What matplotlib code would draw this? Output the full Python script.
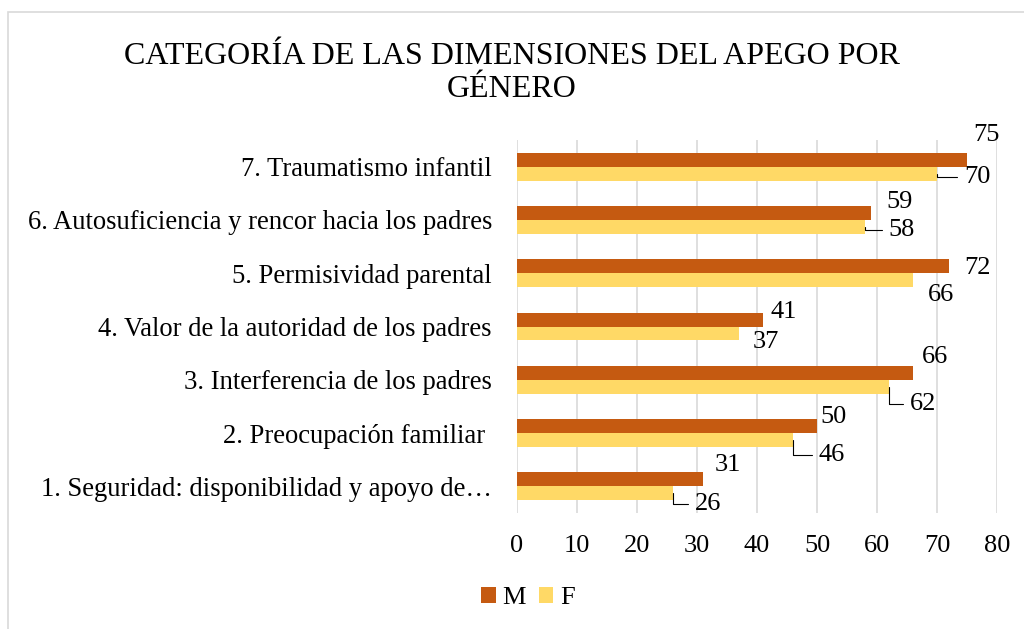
import matplotlib
matplotlib.use("Agg")
import matplotlib.pyplot as plt
from matplotlib.patches import Rectangle
import numpy as np

plt.rcParams['font.family'] = ['Liberation Serif', 'DejaVu Serif']

categorias = ["1. Seguridad: disponibilidad y apoyo de…",
              "2. Preocupación familiar ",
              "3. Interferencia de los padres",
              "4. Valor de la autoridad de los padres",
              "5. Permisividad parental",
              "6. Autosuficiencia y rencor hacia los padres",
              "7. Traumatismo infantil"]
valores_m = [31, 50, 66, 41, 72, 59, 75]
valores_f = [26, 46, 62, 37, 66, 58, 70]

# label offsets (pixels) from bar end, and whether a leader line is drawn
off_m = [(25, 14), (17, 9), (22, 16), (21, 8), (29, -2), (29, 11), (19, 25)]
off_f = [(35, -11), (39, -15), (34, -17), (27, -9), (28, -15), (37, -3), (40, -3)]
guia_f = [True, True, True, False, False, True, True]

color_m = "#C55A11"
color_f = "#FFD966"

fig = plt.figure(figsize=(10.24, 6.29), dpi=100)
ax = fig.add_axes([517/1024, 1 - 513/629, 480/1024, 373/629])

# light chart border
fig.patches.append(Rectangle((8/1024, -0.1), 1.2, 1 - 12/629 + 0.1,
                             transform=fig.transFigure, fill=False,
                             edgecolor="#D9D9D9", lw=1.2))

y = np.arange(len(categorias))
h = 0.2625
ax.barh(y + h/2, valores_m, height=h, color=color_m, label="M", zorder=3)
ax.barh(y - h/2, valores_f, height=h, color=color_f, label="F", zorder=3)

for i in range(len(categorias)):
    ax.annotate(str(valores_m[i]), xy=(valores_m[i], y[i] + h/2),
                xytext=off_m[i], textcoords="offset pixels",
                ha="center", va="center", fontsize=19)
    if guia_f[i]:
        ax.annotate(str(valores_f[i]), xy=(valores_f[i], y[i] - h/2),
                    xytext=off_f[i], textcoords="offset pixels",
                    ha="center", va="center", fontsize=19,
                    arrowprops=dict(arrowstyle="-", color="black", lw=0.8,
                                    relpos=(0, 0.5), shrinkA=3, shrinkB=0,
                                    connectionstyle="angle,angleA=0,angleB=90,rad=0"))
    else:
        ax.annotate(str(valores_f[i]), xy=(valores_f[i], y[i] - h/2),
                    xytext=off_f[i], textcoords="offset pixels",
                    ha="center", va="center", fontsize=19)

ax.set_xlim(0, 80)
ax.set_ylim(-0.5, 6.5)
ax.set_xticks(np.arange(0, 81, 10))
ax.set_yticks(y)
ax.set_yticklabels(categorias, fontsize=19.2)
ax.tick_params(axis="x", labelsize=19, length=0, pad=16)
ax.tick_params(axis="y", length=0, pad=18)
ax.grid(axis="x", color="#D9D9D9", lw=1.2, zorder=0)
for s in ax.spines.values():
    s.set_visible(False)

fig.text(0.5, 1 - 73/629, "CATEGORÍA DE LAS DIMENSIONES DEL APEGO POR\nGÉNERO",
         ha="center", va="center", fontsize=23, linespacing=1.2)

fig.legend(loc="center", bbox_to_anchor=(528/1024, 1 - 598/629), ncol=2,
           frameon=False, fontsize=19, handlelength=0.55, handleheight=0.55,
           handletextpad=0.25, columnspacing=0.5)

fig.savefig("out.png", dpi=100)
